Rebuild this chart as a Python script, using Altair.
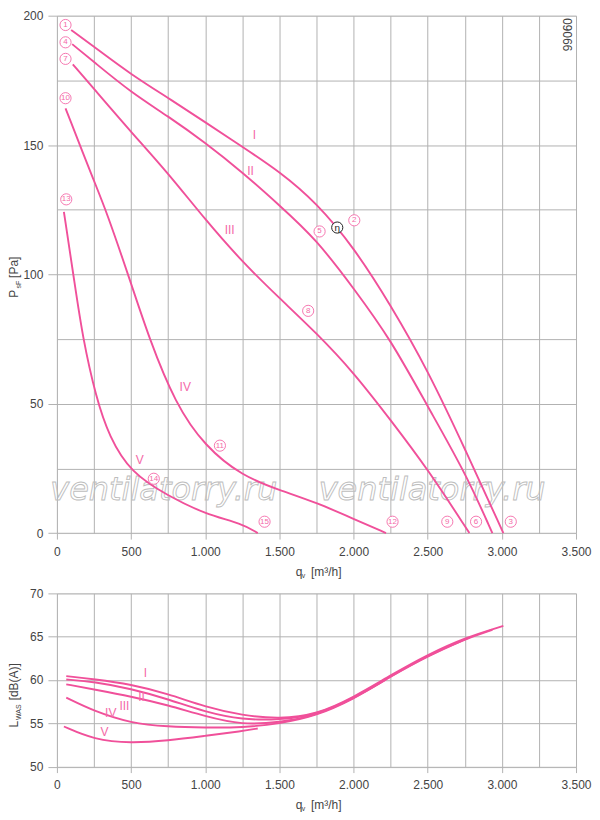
import altair as alt
import pandas as pd

PINK = "#f0509a"
LPINK = "#f46aa8"
GRID = "#b2b2b2"
TXT = "#444444"
FONT = "Liberation Sans"

# ---------------- pressure curves (top chart) ----------------
q_I = [96, 250, 499, 750, 998, 1250, 1500, 1750, 2001, 2250, 2502, 2754, 3010]
p_I = [194.5, 188, 177.3, 168.2, 158.9, 149.3, 139.8, 127.7, 110.5, 88.2, 62.8, 32.2, 0]
q_II = [103, 250, 499, 750, 998, 1250, 1500, 1750, 2001, 2250, 2502, 2754, 2936]
p_II = [189, 182.1, 170.4, 161.1, 151.0, 139.5, 126.7, 113.5, 94.6, 74.9, 48.7, 23.3, 0]
q_III = [107, 250, 499, 749, 998, 1250, 1500, 1749, 2001, 2250, 2502, 2781]
p_III = [181.2, 171.7, 155.1, 139.2, 121.3, 104.8, 90.8, 77.4, 62.1, 43.7, 24.6, 0]
q_IV = [58, 250, 330, 497, 620, 798, 998, 1250, 1500, 1749, 2001, 2219]
p_IV = [164.2, 136.0, 125, 97.1, 75.5, 50, 33.5, 22, 16.6, 11.8, 5.5, 0]
q_V = [47, 118, 174, 263, 352, 499, 749, 998, 1250, 1354]
p_V = [124.2, 97.1, 75.5, 52.6, 37.3, 23.3, 14.4, 7.4, 3.6, 0]

# ---------------- sound power curves (bottom chart) ----------------
lq_I = [63, 250, 499, 749, 998, 1250, 1500, 1750, 2001, 2250, 2502, 2754, 3010]
lw_I = [60.44, 60.1, 59.5, 58.4, 56.9, 55.9, 55.5, 56.0, 58.0, 60.55, 62.95, 64.9, 66.25]
lq_II = [63, 250, 499, 749, 998, 1250, 1500, 1750, 2001, 2250, 2502, 2754, 2936]
lw_II = [60.06, 59.8, 59.0, 57.8, 56.3, 55.4, 55.4, 55.95, 57.9, 60.45, 62.85, 64.75, 65.8]
lq_III = [63, 250, 499, 749, 998, 1250, 1500, 1750, 2001, 2250, 2502, 2781]
lw_III = [59.5, 58.9, 58.1, 57.1, 55.8, 54.8, 55.1, 55.9, 57.85, 60.4, 62.8, 64.9]
lq_IV = [63, 250, 499, 749, 998, 1250, 1500, 1750, 2001, 2219]
lw_IV = [57.96, 56.4, 55.0, 54.6, 54.5, 54.5, 54.95, 55.85, 57.8, 60.05]
lq_V = [47, 250, 499, 749, 998, 1250, 1354]
lw_V = [54.63, 53.1, 52.7, 53.0, 53.55, 54.1, 54.4]

# ---------------- labels ----------------
roman = ["I", "II", "III", "IV", "V"]
roman_top_q = [1332, 1305, 1165, 865, 559]
roman_top_p = [153.8, 139.8, 117.1, 56.4, 28.4]
roman_bot_q = [597, 571, 455, 363, 320]
roman_bot_l = [60.75, 58.0, 57.0, 56.2, 54.0]

circ_num = ["1", "4", "7", "10", "13", "2", "5", "8", "11", "14", "15", "12", "9", "6", "3"]
circ_q = [58, 58, 58, 58, 63, 2005, 1771, 1694, 1099, 653, 1400, 2263, 2632, 2826, 3060]
circ_p = [196.4, 189.7, 183.3, 168.1, 129, 120.9, 116.6, 85.9, 33.8, 21, 4.4, 4.4, 4.4, 4.4, 4.4]

eta_q = [1890]
eta_p = [118.1]

wm_text = ["ventilatorry.ru", "ventilatorry.ru"]
wm_q = [720, 2530]
wm_p = [16.5, 16.5]

x_ticks = list(range(0, 3501, 250))
y_top_ticks = list(range(0, 201, 25))
y_bot_ticks = [50, 55, 60, 65, 70]


def num_expr(step):
    return (f"datum.value % {step} === 0 ? "
            "replace(format(datum.value, ','), ',', '.') : ''")


def tick_op(step):
    return {"condition": {"test": f"datum.value % {step} === 0", "value": 1}, "value": 0}


x_axis = alt.Axis(values=x_ticks, labelExpr=num_expr(500), tickOpacity=tick_op(500),
                  tickSize=6, labelPadding=7, domain=False, grid=True, gridColor=GRID,
                  tickColor=GRID, labelColor=TXT, labelFont=FONT, labelFontSize=12,
                  labelFlush=False, labelOverlap=False, title=None)
x_scale = alt.Scale(domain=[0, 3500], nice=False, zero=False)

y_top_axis = alt.Axis(values=y_top_ticks, labelExpr=num_expr(50), tickOpacity=tick_op(50),
                      tickSize=9, labelPadding=5, domain=False, grid=True, gridColor=GRID,
                      tickColor=GRID, labelColor=TXT, labelFont=FONT, labelFontSize=12,
                      labelFlush=False, labelOverlap=False, title=None)
y_top_scale = alt.Scale(domain=[0, 200], nice=False, zero=False)

y_bot_axis = alt.Axis(values=y_bot_ticks, tickSize=9, labelPadding=5, domain=False,
                      grid=True, gridColor=GRID, tickColor=GRID, labelColor=TXT,
                      labelFont=FONT, labelFontSize=12, labelFlush=False,
                      labelOverlap=False, title=None)
y_bot_scale = alt.Scale(domain=[50, 70], nice=False, zero=False)

XT = alt.X("q:Q", scale=x_scale, axis=x_axis)
YT = alt.Y("p:Q", scale=y_top_scale, axis=y_top_axis)
YB = alt.Y("p:Q", scale=y_bot_scale, axis=y_bot_axis)


def curves_df(items):
    rows = []
    for name, qs, ps in items:
        for q, p in zip(qs, ps):
            rows.append({"curve": name, "q": q, "p": p})
    return pd.DataFrame(rows)


df_top = curves_df([("I", q_I, p_I), ("II", q_II, p_II), ("III", q_III, p_III),
                    ("IV", q_IV, p_IV), ("V", q_V, p_V)])
df_bot = curves_df([("I", lq_I, lw_I), ("II", lq_II, lw_II), ("III", lq_III, lw_III),
                    ("IV", lq_IV, lw_IV), ("V", lq_V, lw_V)])


def piece(text, x, y, size=12, angle=0, align="center"):
    return alt.Chart(pd.DataFrame({"a": [0]})).mark_text(
        text=text, font=FONT, fontSize=size, color=TXT, angle=angle,
        align=align, baseline="middle").encode(x=alt.value(x), y=alt.value(y))


W = 520
HT = 518.3
HB = 173.5
TX = -42.5      # x of rotated y-titles
TOFF = 38.5     # x-title offset below plot

# ---------- top chart ----------
wm = alt.Chart(pd.DataFrame({"t": wm_text, "q": wm_q, "p": wm_p})).mark_text(
    font="DejaVu Sans", fontStyle="italic", fontSize=32, fillOpacity=0, stroke="#bdbdbd",
    strokeWidth=0.9, align="center", baseline="middle").encode(x=XT, y=YT, text="t:N")

lines_top = alt.Chart(df_top).mark_line(color=PINK, strokeWidth=1.9,
                                        interpolate="basis").encode(
    x=XT, y=YT, detail="curve:N")

df_circ = pd.DataFrame({"t": circ_num, "q": circ_q, "p": circ_p})
circles = alt.Chart(df_circ).mark_point(shape="circle", size=125, filled=True, fill="white",
                                        fillOpacity=1, stroke=LPINK, strokeWidth=0.9,
                                        strokeOpacity=1).encode(x=XT, y=YT)
circ_txt = alt.Chart(df_circ).mark_text(font=FONT, fontSize=8, color=LPINK,
                                        baseline="middle", align="center").encode(
    x=XT, y=YT, text="t:N")

df_eta = pd.DataFrame({"q": eta_q, "p": eta_p, "t": ["η"]})
eta_c = alt.Chart(df_eta).mark_point(shape="circle", size=125, filled=True, fill="white",
                                     fillOpacity=1, stroke="#222222", strokeWidth=1,
                                     strokeOpacity=1).encode(x=XT, y=YT)
eta_t = alt.Chart(df_eta).mark_text(font=FONT, fontSize=10, color="#222222",
                                    baseline="middle", align="center", dy=0.5).encode(
    x=XT, y=YT, text="t:N")

rom_top = alt.Chart(pd.DataFrame({"t": roman, "q": roman_top_q, "p": roman_top_p})).mark_text(
    font=FONT, fontSize=12, color=LPINK, baseline="middle", align="center").encode(
    x=XT, y=YT, text="t:N")

code_txt = piece("99060", W - 8, 19, size=12, angle=270)

top = alt.layer(
    wm, lines_top, circles, circ_txt, eta_c, eta_t, rom_top, code_txt,
    piece("P", TX, 278.5, 12, 270),
    piece("sF", TX + 4.8, 269.5, 7, 270),
    piece("[Pa]", TX, 252, 12, 270),
    piece("q", 242.5, HT + TOFF, 12),
    piece("v", 247.0, HT + TOFF + 4, 7),
    piece("[m³/h]", 254.5, HT + TOFF, 12, 0, "left"),
).properties(width=W, height=HT)

# ---------- bottom chart ----------
lines_bot = alt.Chart(df_bot).mark_line(color=PINK, strokeWidth=1.9,
                                        interpolate="basis").encode(
    x=XT, y=YB, detail="curve:N")
rom_bot = alt.Chart(pd.DataFrame({"t": roman, "q": roman_bot_q, "p": roman_bot_l})).mark_text(
    font=FONT, fontSize=12, color=LPINK, baseline="middle", align="center").encode(
    x=XT, y=YB, text="t:N")

bottom = alt.layer(
    lines_bot, rom_bot,
    piece("L", TX, 131, 12, 270),
    piece("WAS", TX + 4.8, 119, 7, 270),
    piece("[dB(A)]", TX, 88.5, 12, 270),
    piece("q", 242.5, HB + TOFF, 12),
    piece("v", 247.0, HB + TOFF + 4, 7),
    piece("[m³/h]", 254.5, HB + TOFF, 12, 0, "left"),
).properties(width=W, height=HB)

chart = alt.vconcat(top, bottom, spacing=6.7).properties(
    padding={"left": 0, "top": 0, "right": 0, "bottom": 0}
).configure_view(stroke=GRID, strokeWidth=1).configure(background="white")

chart.save("out.html", embed_options={"renderer": "svg", "actions": False})
